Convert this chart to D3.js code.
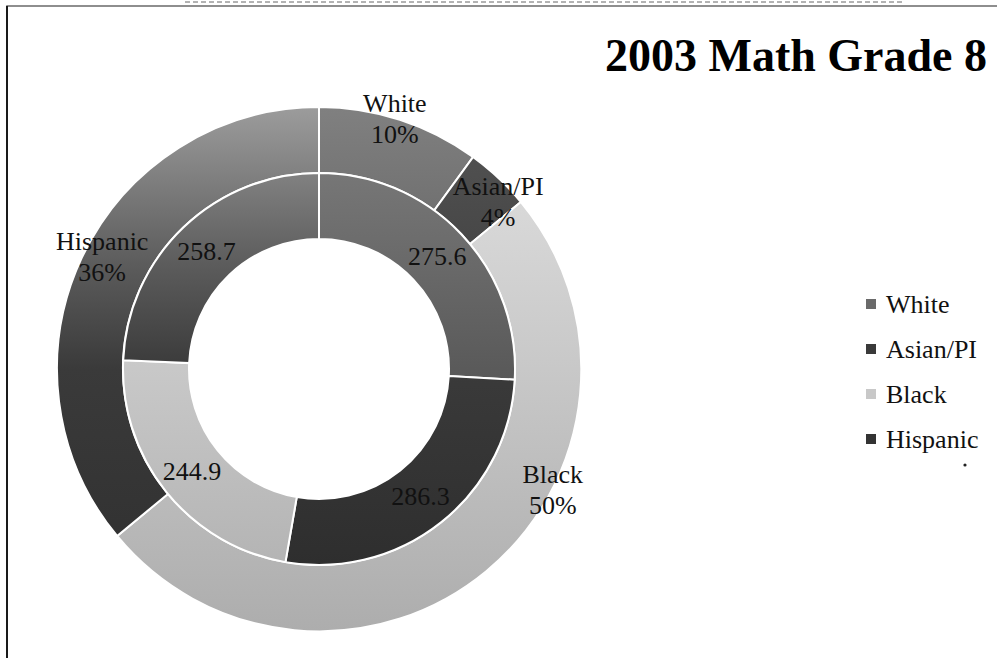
<!DOCTYPE html>
<html>
<head>
<meta charset="utf-8">
<script src="https://cdn.jsdelivr.net/npm/d3@7"></script>
<style>
  html, body { margin: 0; padding: 0; background: #ffffff; }
  svg { display: block; }
  text { font-family: "Liberation Serif", "DejaVu Serif", serif; }
</style>
</head>
<body>
<div id="chart"></div>
<script>
// ---------- data ----------
const categories = ["White", "Asian/PI", "Black", "Hispanic"];
const sharePct   = [10, 4, 50, 36];                 // outer ring (% of students)
const scores     = [275.6, 286.3, 244.9, 258.7];    // inner ring (average scale score)
const chartTitle = "2003 Math Grade 8";

// ---------- layout / style config ----------
const W = 997, H = 658;
const cx = 319, cy = 369;
const rOuter = 262, rMid = 196, rInner = 130;

// vertical gradient stops per category (scan is grayscale)
const gradStops = [
  [[0, "#808080"], [0.5, "#5a5a5a"], [1, "#444444"]],
  [[0, "#555555"], [0.5, "#3a3a3a"], [1, "#2a2a2a"]],
  [[0, "#e2e2e2"], [0.5, "#c8c8c8"], [1, "#adadad"]],
  [[0, "#9c9c9c"], [0.3, "#5c5c5c"], [0.5, "#3a3a3a"], [1, "#2e2e2e"]]
];
const legendFill = ["#6a6a6a", "#3a3a3a", "#c8c8c8", "#333333"];

// outer-ring label anchors (manually moved in source): polar angle (deg) + radius
const outerLabelAngle  = [16.9, 47.0, 117.3, 297.3];
const outerLabelRadius = [261, 245, 263, 244];

const svg = d3.select("#chart").append("svg")
  .attr("width", W).attr("height", H);

// faint scan artifact line above the frame
svg.append("line")
  .attr("x1", 185).attr("x2", 905).attr("y1", 2).attr("y2", 2)
  .attr("stroke", "#666").attr("stroke-width", 1).attr("stroke-dasharray", "5,3");

// frame
svg.append("rect")
  .attr("x", 7).attr("y", 6).attr("width", W + 20).attr("height", H + 20)
  .attr("fill", "none").attr("stroke", "#6a6a6a").attr("stroke-width", 1.5);
svg.append("line")
  .attr("x1", 7).attr("x2", 7).attr("y1", 6).attr("y2", H)
  .attr("stroke", "#1a1a1a").attr("stroke-width", 2);

// gradients (in the donut group's coordinate space)
const defs = svg.append("defs");
categories.forEach((c, i) => {
  const gr = defs.append("linearGradient")
    .attr("id", "grad" + i)
    .attr("gradientUnits", "userSpaceOnUse")
    .attr("x1", 0).attr("x2", 0)
    .attr("y1", -rOuter).attr("y2", rOuter);
  gradStops[i].forEach(s => gr.append("stop").attr("offset", s[0]).attr("stop-color", s[1]));
});

const g = svg.append("g").attr("transform", `translate(${cx},${cy})`);

const pie = d3.pie().sort(null).value(d => d.v);
const outerData = pie(categories.map((c, i) => ({c, i, v: sharePct[i]})));
const innerData = pie(categories.map((c, i) => ({c, i, v: scores[i]})));

const arcOuter = d3.arc().innerRadius(rMid).outerRadius(rOuter);
const arcInner = d3.arc().innerRadius(rInner).outerRadius(rMid);

g.selectAll("path.outer").data(outerData).join("path")
  .attr("class", "outer")
  .attr("d", arcOuter)
  .attr("fill", d => `url(#grad${d.data.i})`)
  .attr("stroke", "#ffffff").attr("stroke-width", 2);

g.selectAll("path.inner").data(innerData).join("path")
  .attr("class", "inner")
  .attr("d", arcInner)
  .attr("fill", d => `url(#grad${d.data.i})`)
  .attr("stroke", "#ffffff").attr("stroke-width", 2);

const fs = 26, lh = 31;

// inner labels at centroid
g.selectAll("text.inner").data(innerData).join("text")
  .attr("class", "inner")
  .attr("transform", d => `translate(${arcInner.centroid(d)})`)
  .attr("text-anchor", "middle")
  .attr("dominant-baseline", "central")
  .attr("font-size", fs)
  .attr("fill", "#111")
  .text(d => d3.format(".1f")(d.data.v));

// outer labels
const outerLabels = g.selectAll("text.outer").data(outerData).join("text")
  .attr("class", "outer")
  .attr("transform", d => {
    const a = outerLabelAngle[d.data.i] * Math.PI / 180;
    const r = outerLabelRadius[d.data.i];
    return `translate(${r * Math.sin(a)},${-r * Math.cos(a)})`;
  })
  .attr("text-anchor", "middle")
  .attr("font-size", fs)
  .attr("fill", "#111");
outerLabels.append("tspan").attr("x", 0).attr("y", -lh / 2)
  .attr("dominant-baseline", "central").text(d => d.data.c);
outerLabels.append("tspan").attr("x", 0).attr("y", lh / 2)
  .attr("dominant-baseline", "central").text(d => d.data.v + "%");

// title
svg.append("text")
  .attr("x", 605).attr("y", 71)
  .attr("font-size", 46).attr("font-weight", "bold")
  .attr("fill", "#000")
  .text(chartTitle);

// legend
const legendY = d3.scalePoint().domain(categories).range([304, 439]);
const leg = svg.append("g");
const items = leg.selectAll("g").data(categories).join("g")
  .attr("transform", d => `translate(866,${legendY(d)})`);
items.append("rect").attr("x", 0).attr("y", -5).attr("width", 10).attr("height", 10)
  .attr("fill", (d, i) => legendFill[i]);
items.append("text").attr("x", 20).attr("y", 0)
  .attr("dominant-baseline", "central")
  .attr("font-size", fs).attr("fill", "#111")
  .text(d => d);

// small scan speck under the legend
svg.append("circle").attr("cx", 965).attr("cy", 465).attr("r", 1.6).attr("fill", "#222");
</script>
</body>
</html>
